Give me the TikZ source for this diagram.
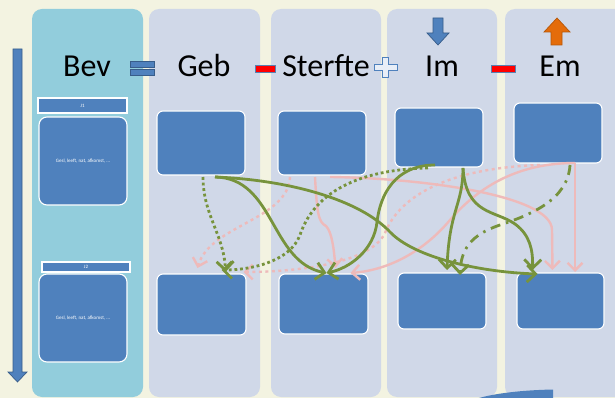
\documentclass[tikz,border=0pt]{standalone}
\usepackage{fontspec}
\setmainfont{Carlito}
\usetikzlibrary{arrows.meta,calc}
\definecolor{bgc}{RGB}{243,243,225}
\definecolor{bevcol}{RGB}{146,205,220}
\definecolor{colc}{RGB}{208,216,232}
\definecolor{boxblue}{RGB}{79,129,189}
\definecolor{darkblue}{RGB}{56,93,138}
\definecolor{gline}{RGB}{119,147,60}
\definecolor{pline}{RGB}{238,186,186}
\definecolor{orangec}{RGB}{228,108,10}
\definecolor{orangedark}{RGB}{182,87,8}
\definecolor{redc}{RGB}{255,0,0}
\definecolor{plusfill}{RGB}{232,238,247}
\begin{document}
\begin{tikzpicture}[x=1pt,y=-1pt,
  bluebox/.style={draw=white, line width=1.1pt, fill=boxblue, rounded corners=6pt, inner sep=0pt, outer sep=0pt},
  headtext/.style={font=\fontsize{32}{38}\selectfont, text=black, inner sep=0pt, anchor=base},
  tinytext/.style={font=\fontsize{5}{6}\selectfont, text=white},
  colshape/.style={fill=colc, rounded corners=10pt},
  gsolid/.style={draw=gline, line width=2.8pt, -{Straight Barb[length=8.5pt,width=17pt]}},
  gdot/.style={gsolid, dash pattern=on 2.8pt off 2.8pt},
  gdashdot/.style={gsolid, dash pattern=on 10pt off 6pt on 2.5pt off 6pt},
  psolid/.style={draw=pline, line width=2.4pt, -{Straight Barb[length=7.5pt,width=15pt]}},
  pdot/.style={psolid, dash pattern=on 3pt off 3.5pt},
  bluearrow/.style={fill=boxblue, draw=darkblue, line width=0.7pt},
]
\useasboundingbox (0,0) rectangle (615,398);
\fill[bgc] (0,0) rectangle (615,398);

% columns
\fill[bevcol, rounded corners=10pt] (32,9) rectangle (143,397);
\fill[colshape] (149,9) rectangle (260,397);
\fill[colshape] (271,9) rectangle (381,397);
\fill[colshape] (387,9) rectangle (497,397);
\fill[colshape] (505,9) rectangle (625,397);

% left time arrow
\draw[bluearrow] (13,49) -- (22,49) -- (22,372) -- (27,372) -- (17.5,382) -- (8,372) -- (13,372) -- cycle;

% headings
\node[headtext] (tBev) at (87,77) {Bev};
\node[headtext] (tGeb) at (204,77) {Geb};
\node[headtext] (tSterfte) at (326,77) {Sterfte};
\node[headtext] (tIm) at (442,77) {Im};
\node[headtext] (tEm) at (560,77) {Em};

% operators
\draw[bluearrow] (130,61) rectangle (154,67);
\draw[bluearrow] (130,69.5) rectangle (154,75.5);
\draw[fill=redc, draw=boxblue!80!gray, line width=0.8pt] (255,65) rectangle (275,72);
\draw[fill=redc, draw=boxblue!80!gray, line width=0.8pt] (491,65) rectangle (515,72);
\draw[fill=plusfill, draw=boxblue, line width=0.8pt]
  (382.5,57.5) -- (388.5,57.5) -- (388.5,64.5) -- (397,64.5) -- (397,70.5) -- (388.5,70.5)
  -- (388.5,77.5) -- (382.5,77.5) -- (382.5,70.5) -- (374,70.5) -- (374,64.5) -- (382.5,64.5) -- cycle;

% im / em arrows
\draw[bluearrow] (433,18) -- (443,18) -- (443,33) -- (449,33) -- (438,45) -- (427,33) -- (433,33) -- cycle;
\draw[fill=orangec, draw=orangedark, line width=0.7pt] (551,45) -- (562,45) -- (562,32) -- (570,32) -- (557,18) -- (544,32) -- (551,32) -- cycle;

% Bev column items
\node[bluebox, rounded corners=0pt, minimum width=89pt, minimum height=15pt, tinytext] (j1) at (82.5,105.5) {J1};
\node[bluebox, rounded corners=8pt, minimum width=88pt, minimum height=88pt, tinytext] (bev1) at (83,161) {Gesl, leeft, nat, afkomst, ...};
\node[bluebox, rounded corners=0pt, minimum width=88pt, minimum height=10pt, tinytext] (j2) at (86,267) {J2};
\node[bluebox, rounded corners=8pt, minimum width=88pt, minimum height=88pt, tinytext] (bev2) at (83,318) {Gesl, leeft, nat, afkomst, ...};

% boxes
\node[bluebox, minimum width=88pt, minimum height=64pt] (gebT) at (201,143) {};
\node[bluebox, minimum width=89pt, minimum height=61pt] (gebB) at (201.5,304.5) {};
\node[bluebox, minimum width=88pt, minimum height=64pt] (stT) at (322,143) {};
\node[bluebox, minimum width=89pt, minimum height=60pt] (stB) at (323.5,304) {};
\node[bluebox, minimum width=88pt, minimum height=59pt] (imT) at (439,137.5) {};
\node[bluebox, minimum width=88pt, minimum height=56pt] (imB) at (442,301) {};
\node[bluebox, minimum width=88pt, minimum height=60pt] (emT) at (558,133) {};
\node[bluebox, minimum width=87pt, minimum height=56pt] (emB) at (560.5,301) {};

% bottom right partial shape
\fill[boxblue] (477,398.5) .. controls (500,392) and (530,390) .. (553,389.5) -- (553,398.5) -- cycle;

% pink arrows
\draw[pdot] ($(stT.south)+(-32,2)$) .. controls (288,220) and (210,225) .. ($(gebB.north)+(-4,-6)$);
\draw[psolid] ($(stT.south)+(-7,2)$) .. controls (317,212) and (318,222) .. (326,226) .. controls (332,232) and (334,250) .. ($(stB.north)+(12,-6)$);
\draw[pdot] ($(emT.south)+(-18,2)$) .. controls (450,168) and (400,195) .. (385,233) .. controls (370,265) and (290,272) .. ($(gebB.north)+(42,-2)$);
\draw[psolid] ($(emT.south)+(17,0)$) .. controls (520,163) and (480,185) .. (450,220) .. controls (425,250) and (390,270) .. ($(stB.north)+(27,-1)$);
\draw[psolid] ($(emT.south)+(17,0)$) -- ($(emB.north)+(14.5,-1)$);
\draw[psolid] ($(stT.south)+(8,2)$) .. controls (420,178) and (552,195) .. (552,230) -- ($(emB.north)+(-8,-3)$);

% green arrows
\draw[gsolid] ($(gebT.south)+(14,2)$) .. controls (275,178) and (270,262) .. ($(stB.north)+(3,-1)$);
\draw[gsolid] ($(gebT.south)+(14,2)$) .. controls (290,180) and (360,200) .. (390,232) .. controls (415,258) and (480,272) .. ($(emB.north)+(-23,1)$);
\draw[gdot] ($(gebT.south)+(2,2)$) .. controls (203,215) and (224,235) .. ($(gebB.north)+(24,-2)$);
\draw[gsolid] ($(imT.south)+(-4,-2)$) .. controls (395,165) and (380,195) .. (377,222) .. controls (374,250) and (350,268) .. ($(stB.north)+(3,-1)$);
\draw[gdot] ($(imT.south)+(-11,1)$) .. controls (340,170) and (310,205) .. (300,235) .. controls (290,262) and (250,270) .. ($(gebB.north)+(20,-4)$);
\draw[gsolid] ($(imT.south)+(24,1)$) .. controls (463,205) and (449,210) .. ($(imB.north)+(5,-3)$);
\draw[gsolid] ($(imT.south)+(24,1)$) .. controls (466,215) and (495,210) .. (515,224) .. controls (530,235) and (533,250) .. ($(emB.north)+(-28,-3)$);
\draw[gdashdot] ($(emT.south)+(12,2)$) .. controls (568,200) and (530,215) .. (500,225) .. controls (470,235) and (461,250) .. ($(imB.north)+(18,2)$);
\end{tikzpicture}
\end{document}
